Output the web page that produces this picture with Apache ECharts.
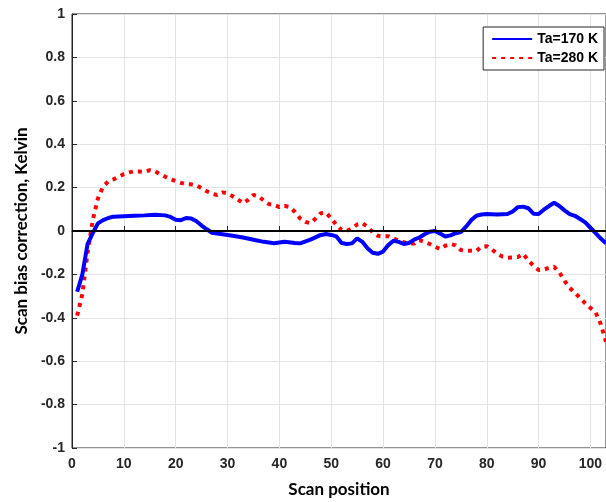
<!DOCTYPE html>
<html>
<head>
<meta charset="utf-8">
<script src="https://cdn.jsdelivr.net/npm/echarts@6/dist/echarts.min.js"></script>
<style>html,body{margin:0;padding:0;background:#fff}#c{width:606px;height:502px}</style>
</head>
<body>
<div id="c"></div>
<script>
const blueX = [1,2,3,4,5,6,7,8,10,12,14,16,18,19,20,21,22,23,24,25,26,27,29,31,33,35,37,39,41,43,44,46,48,49,50,51,52,53,54,55,56,57,58,59,60,61,62,63,64,65,66,67,68,69,70,71,72,73,74,75,76,77,78,79,80,82,84,85,86,87,88,89,90,91,92,93,94,95,96,97,98,99,100,101,102,103];
const blueY = [-0.28,-0.2,-0.06,-0.01,0.035,0.05,0.06,0.066,0.068,0.07,0.072,0.075,0.072,0.065,0.052,0.05,0.06,0.058,0.045,0.025,0.008,-0.008,-0.015,-0.022,-0.03,-0.04,-0.05,-0.056,-0.05,-0.055,-0.057,-0.04,-0.018,-0.014,-0.018,-0.025,-0.055,-0.06,-0.057,-0.034,-0.05,-0.08,-0.1,-0.105,-0.095,-0.065,-0.045,-0.05,-0.06,-0.055,-0.04,-0.03,-0.015,-0.003,0.0,-0.012,-0.025,-0.02,-0.01,-0.005,0.02,0.05,0.07,0.076,0.078,0.076,0.078,0.09,0.11,0.112,0.105,0.08,0.078,0.098,0.115,0.13,0.115,0.095,0.078,0.07,0.055,0.04,0.015,-0.01,-0.035,-0.057];
const redX = [1,2,3,4,5,6,7,8,9,10,11,12,13,14,15,16,17,18,19,20,21,22,23,24,25,26,27,28,29,30,31,32,33,34,35,36,37,38,39,40,41,42,43,44,45,46,47,48,49,50,51,52,53,54,55,56,57,58,59,60,61,62,63,64,65,66,67,68,69,70,71,72,73,74,75,76,77,78,79,80,81,82,83,84,85,86,87,88,89,90,91,92,93,94,95,96,97,98,99,100,101,102,103];
const redY = [-0.39,-0.29,-0.1,0.05,0.15,0.205,0.228,0.238,0.25,0.262,0.27,0.275,0.274,0.273,0.28,0.275,0.262,0.25,0.238,0.23,0.222,0.216,0.215,0.21,0.197,0.183,0.172,0.166,0.178,0.174,0.16,0.145,0.128,0.144,0.166,0.16,0.14,0.124,0.12,0.11,0.116,0.11,0.088,0.058,0.042,0.036,0.058,0.082,0.085,0.058,0.028,0.005,0.0,0.012,0.03,0.036,0.02,-0.006,-0.022,-0.024,-0.024,-0.034,-0.045,-0.052,-0.058,-0.058,-0.042,-0.05,-0.06,-0.072,-0.083,-0.068,-0.06,-0.066,-0.088,-0.091,-0.091,-0.092,-0.072,-0.07,-0.085,-0.105,-0.118,-0.123,-0.122,-0.12,-0.105,-0.135,-0.16,-0.18,-0.178,-0.17,-0.165,-0.19,-0.23,-0.262,-0.285,-0.308,-0.333,-0.355,-0.375,-0.43,-0.51];
const seriesNames = ['Ta=170 K', 'Ta=280 K'];
const xTicks = [0,10,20,30,40,50,60,70,80,90,100];

const blueData = blueX.map((x, i) => [x, blueY[i]]);
const redData = redX.map((x, i) => [x, redY[i]]);

const chart = echarts.init(document.getElementById('c'), null, {renderer: 'canvas'});
const axisColor = '#262626';
const labelFont = {color: axisColor, fontWeight: 'bold', fontSize: 14, fontFamily: 'Liberation Sans, Arial, sans-serif'};
chart.setOption({
  animation: false,
  backgroundColor: '#ffffff',
  grid: {left: 72, right: 0, top: 14, bottom: 54, outerBoundsMode: 'none', containLabel: false,
    show: true, borderColor: axisColor, borderWidth: 1, backgroundColor: 'transparent'},
  legend: {
    right: 2, top: 27, orient: 'vertical', itemWidth: 40, itemHeight: 10, itemGap: 5,
    padding: [5, 6, 5, 8], borderColor: axisColor, borderWidth: 1, backgroundColor: '#fff',
    itemStyle: {opacity: 0},
    textStyle: {color: '#000', fontWeight: 'bold', fontSize: 14, fontFamily: 'Liberation Sans, Arial, sans-serif'},
    data: seriesNames
  },
  xAxis: {
    type: 'value', min: 0, max: 103, interval: 10,
    name: 'Scan position', nameLocation: 'middle', nameGap: 33,
    nameTextStyle: {color: '#000', fontWeight: 'bold', fontSize: 17, fontFamily: 'Lato, sans-serif'},
    axisLine: {lineStyle: {color: axisColor, width: 1}},
    axisTick: {inside: true, length: 5, lineStyle: {color: axisColor}},
    axisLabel: Object.assign({margin: 9, formatter: v => xTicks.includes(v) ? String(v) : ''}, labelFont),
    splitLine: {show: true, lineStyle: {color: '#e3e3e3', width: 1}}
  },
  yAxis: {
    type: 'value', min: -1, max: 1, interval: 0.2,
    name: 'Scan bias correction, Kelvin', nameLocation: 'middle', nameGap: 42,
    nameTextStyle: {color: '#000', fontWeight: 'bold', fontSize: 17, fontFamily: 'Lato, sans-serif'},
    axisLine: {lineStyle: {color: axisColor, width: 1}},
    axisTick: {inside: true, length: 5, lineStyle: {color: axisColor}},
    axisLabel: Object.assign({margin: 7, formatter: v => String(Math.round(v * 10) / 10)}, labelFont),
    splitLine: {show: true, lineStyle: {color: '#e3e3e3', width: 1}}
  },
  series: [
    {
      name: seriesNames[0], type: 'line', data: blueData, symbol: 'none', smooth: false,
      lineStyle: {color: '#0000ff', width: 4}, itemStyle: {color: '#0000ff'}, z: 3,
      markLine: {silent: true, symbol: 'none', label: {show: false},
        lineStyle: {color: '#000', width: 2, type: 'solid'}, data: [{yAxis: 0}]}
    },
    {
      name: seriesNames[1], type: 'line', data: redData, symbol: 'none', smooth: false,
      lineStyle: {color: '#ff0000', width: 4, type: [4, 5], cap: 'butt'}, itemStyle: {color: '#ff0000'}, z: 2
    }
  ]
});
</script>
</body>
</html>
